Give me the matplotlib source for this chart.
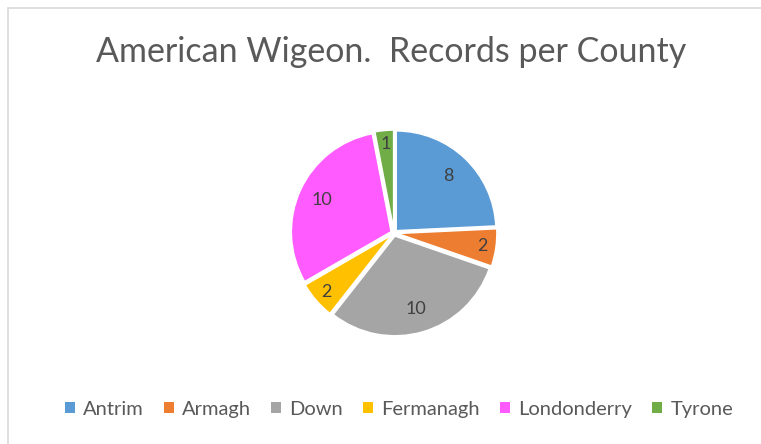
import matplotlib
matplotlib.use('Agg')
import numpy as np
import matplotlib.pyplot as plt
from matplotlib.patches import Rectangle, Patch

counties = ['Antrim', 'Armagh', 'Down', 'Fermanagh', 'Londonderry', 'Tyrone']
records = [8, 2, 10, 2, 10, 1]
colours = ['#5B9BD5', '#ED7D31', '#A5A5A5', '#FFC000', '#FF5BFF', '#70AD47']

W, H = 761, 444
fig = plt.figure(figsize=(W / 100, H / 100), dpi=100)
fig.patch.set_facecolor('white')

# светло-серая рамка диаграммы (как в Excel)
fig.patches.append(Rectangle((8 / W, -0.1), 1.2, (H - 8) / H + 0.1, transform=fig.transFigure,
                             fill=False, edgecolor='#D9D9D9', linewidth=1.2))

fig.text(391 / W, 1 - 52 / H, 'American Wigeon.  Records per County', ha='center', va='center',
         fontsize=24.5, color='#595959', family='Lato')

cx, cy, r = 394, 233, 103
ax = fig.add_axes([(cx - r) / W, 1 - (cy + r) / H, 2 * r / W, 2 * r / H])

wedges, texts = ax.pie(records, colors=colours, startangle=90, counterclock=False, radius=0.97,
                       explode=[0.03] * len(records), labels=[str(v) for v in records],
                       labeldistance=0.8, wedgeprops=dict(edgecolor='white', linewidth=1.2),
                       textprops=dict(color='#404040', fontsize=13, family='Lato'))
# подписи: у узких секторов ближе к краю, у широких ближе к центру
for w, t, v in zip(wedges, texts, records):
    ang = np.deg2rad((w.theta1 + w.theta2) / 2)
    d = 0.84 if v <= 2 else 0.74
    t.set_position((w.center[0] + d * np.cos(ang), w.center[1] + d * np.sin(ang)))
    t.set_ha('center')
    t.set_va('center')
ax.set_xlim(-1, 1)
ax.set_ylim(-1, 1)
ax.axis('off')

handles = [Patch(facecolor=c, edgecolor='none') for c in colours]
fig.legend(handles, counties, loc='center', bbox_to_anchor=(399 / W, 1 - 409 / H), ncol=6,
           frameon=False, handlelength=0.5, handleheight=0.5, handletextpad=0.4, columnspacing=1.0,
           prop=dict(family='Lato', size=14.5), labelcolor='#595959')

fig.savefig('out.png', dpi=100)
